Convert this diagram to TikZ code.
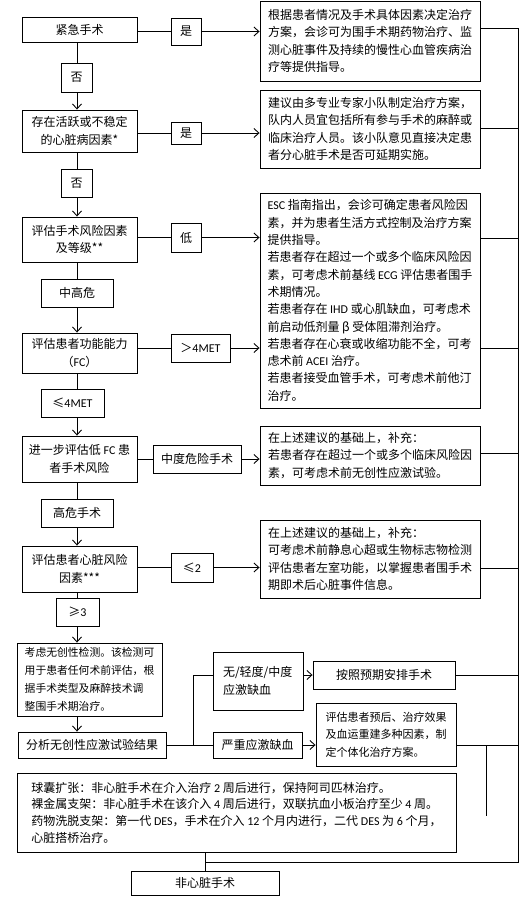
\documentclass[tikz,border=0pt]{standalone}
\usepackage{fontspec}
\setmainfont{Noto Sans CJK SC}
\newfontfamily\lat{Carlito}
\usetikzlibrary{arrows.meta}

\begin{document}
\begin{tikzpicture}[
    x=1pt, y=-1pt,
    every node/.style={font=\fontsize{12}{17.3}\selectfont, text=black},
    box/.style={draw, line width=0.9pt, inner sep=0pt, align=center},
    note/.style={box, align=left, minimum width=220pt, inner ysep=3pt},
    link/.style={line width=0.9pt},
    arrow/.style={link, -{Straight Barb[length=5pt, width=9pt]}}
]

    \useasboundingbox (0,0) rectangle (525,900);

    % ==========================
    % LEFT COLUMN: decision chain
    % ==========================
    \node[box, minimum width=115pt, minimum height=25pt] (emerg)   at (79.5,29.5) {紧急手术};
    \node[box, minimum width=115pt, minimum height=42pt] (active)  at (79.5,131)  {存在活跃或不稳定\\的心脏病因素*};
    \node[box, minimum width=115pt, minimum height=45pt] (risk)    at (79.5,239.5) {评估手术风险因素\\及等级**};
    \node[box, minimum width=115pt, minimum height=40pt] (fc)      at (79.5,353)  {评估患者功能能力\\（{\lat FC}）};
    \node[box, minimum width=115pt, minimum height=46pt] (further) at (79.5,459)  {进一步评估低 {\lat FC} 患\\者手术风险};
    \node[box, minimum width=115pt, minimum height=46pt] (cardiac) at (79.5,569)  {评估患者心脏风险\\因素***};

    \node[box, align=left, minimum width=145pt, minimum height=73pt,
          font=\fontsize{10.8}{18}\selectfont] (nitest) at (89.5,679.5)
        {考虑无创性检测。该检测可\\用于患者任何术前评估，根\\据手术类型及麻醉技术调\\整围手术期治疗。};
    \node[box, minimum width=148pt, minimum height=26pt] (analyze) at (92,745) {分析无创性应激试验结果};

    % stress test branches
    \node[box, align=left, text width=70pt, inner xsep=10pt, minimum height=58pt] (mild) at (258,681)
        {无/轻度/中度\\应激缺血};
    \node[box, minimum width=89pt, minimum height=26pt]  (severe) at (257.5,745) {严重应激缺血};
    \node[box, minimum width=142pt, minimum height=28pt] (plan)   at (384,675)   {按照预期安排手术};
    \node[box, align=left, minimum width=140pt, minimum height=63pt,
          font=\fontsize{11}{17.5}\selectfont] (assess) at (386,734.5)
        {评估患者预后、治疗效果\\及血运重建多种因素，制\\定个体化治疗方案。};

    % revascularisation note and end point
    \node[box, align=left, minimum width=439pt, minimum height=79pt,
          font=\fontsize{12}{16.7}\selectfont] (stent) at (236.5,812.5)
        {球囊扩张：非心脏手术在介入治疗 {\lat 2} 周后进行，保持阿司匹林治疗。\\
         裸金属支架：非心脏手术在该介入 {\lat 4} 周后进行，双联抗血小板治疗至少 {\lat 4} 周。\\
         药物洗脱支架：第一代 {\lat DES}，手术在介入 {\lat 12} 个月内进行，二代 {\lat DES} 为 {\lat 6} 个月，\\
         心脏搭桥治疗。};
    \node[box, minimum width=148pt, minimum height=24pt] (noncard) at (205,883) {非心脏手术};

    % ==========================
    % RIGHT COLUMN: recommendations
    % ==========================
    \node[note, minimum height=80pt] (r1) at (370,41)
        {根据患者情况及手术具体因素决定治疗\\方案，会诊可为围手术期药物治疗、监\\测心脏事件及持续的慢性心血管疾病治\\疗等提供指导。};
    \node[note, minimum height=78pt] (r2) at (370,129)
        {建议由多专业专家小队制定治疗方案，\\队内人员宜包括所有参与手术的麻醉或\\临床治疗人员。该小队意见直接决定患\\者分心脏手术是否可延期实施。};
    \node[note, minimum height=215pt] (r3) at (370,300.5)
        {{\lat ESC} 指南指出，会诊可确定患者风险因\\素，并为患者生活方式控制及治疗方案\\提供指导。\\
         若患者存在超过一个或多个临床风险因\\素，可考虑术前基线 {\lat ECG} 评估患者围手\\术期情况。\\
         若患者存在 {\lat IHD} 或心肌缺血，可考虑术\\前启动低剂量 β 受体阻滞剂治疗。\\
         若患者存在心衰或收缩功能不全，可考\\虑术前 {\lat ACEI} 治疗。\\
         若患者接受血管手术，可考虑术前他汀\\治疗。};
    \node[note, minimum height=59pt] (r4) at (370,455.5)
        {在上述建议的基础上，补充：\\若患者存在超过一个或多个临床风险因\\素，可考虑术前无创性应激试验。};
    \node[note, minimum height=78pt] (r5) at (370,559)
        {在上述建议的基础上，补充：\\可考虑术前静息心超或生物标志物检测\\评估患者左室功能，以掌握患者围手术\\期即术后心脏事件信息。};

    % ==========================
    % Small tag boxes on the connectors
    % ==========================
    \foreach \n/\cx/\cy/\w/\h/\t in {
        yes1/186/31.5/30/27/是,
        yes2/186/133/30/22/是,
        low/186/237.5/30/29/低,
        gt4/200.5/348/59/28/＞{\lat 4MET},
        modrisk/197/459/88/28/中度危险手术,
        le2/192/567.5/42/29/≤{\lat 2},
        no1/76.5/77.5/31/29/否,
        no2/76.5/183/31/28/否,
        midhigh/77/293/72/28/中高危,
        le4/72.5/403/63/28/≤{\lat 4MET},
        highrisk/77/513/72/28/高危手术,
        ge3/77.5/612/43/28/≥{\lat 3}}
    {
        \node[box, minimum width=\w pt, minimum height=\h pt] (\n) at (\cx,\cy) {\t};
    }

    % ==========================
    % Connectors
    % ==========================
    \coordinate (spine) at (77,0);
    \foreach \a/\t/\b in {emerg/no1/active, active/no2/risk, risk/midhigh/fc,
                          fc/le4/further, further/highrisk/cardiac, cardiac/ge3/nitest}
    {
        \draw[link]  (\a.south -| spine) -- (\t.north -| spine);
        \draw[arrow] (\t.south -| spine) -- (\b.north -| spine);
    }
    \draw[arrow] (nitest.south -| spine) -- (analyze.north -| spine);

    \foreach \a/\t/\b in {emerg/yes1/r1, active/yes2/r2, risk/low/r3,
                          fc/gt4/r3, further/modrisk/r4, cardiac/le2/r5}
    {
        \draw[link]  (\a.east |- \t.west) -- (\t.west);
        \draw[arrow] (\t.east) -- (\t.east -| \b.west);
    }

    % fork after the stress test
    \coordinate (fork) at (193,745);
    \draw[link] (analyze.east |- fork) -- (fork);
    \draw[link] (mild.west |- plan) -| (fork) -- (severe.west |- fork);
    \draw[arrow] (mild.east |- plan) -- (plan.west);
    \draw[arrow] (severe.east |- fork) -- (assess.west |- fork);

    % collecting line on the right
    \coordinate (bus top) at (518,28);
    \coordinate (bus end) at (518,862);
    \foreach \b/\y in {r1/28, r2/128, r3/238, r3/348, r4/453, r5/568, plan/675, assess/745}
    {
        \draw[link] (\b.east |- 0,\y) -- (bus top |- 0,\y);
    }
    \draw[link] (bus top) -- (bus end) -- (bus end -| noncard.north);
    \draw[link] (stent.south -| noncard.north) -- (noncard.north);

    % loose stub below the assessment box
    \coordinate (stub top) at (486,745);
    \coordinate (stub end) at (486,816);
    \draw[link] (stub top) -- (stub end);

\end{tikzpicture}
\end{document}
